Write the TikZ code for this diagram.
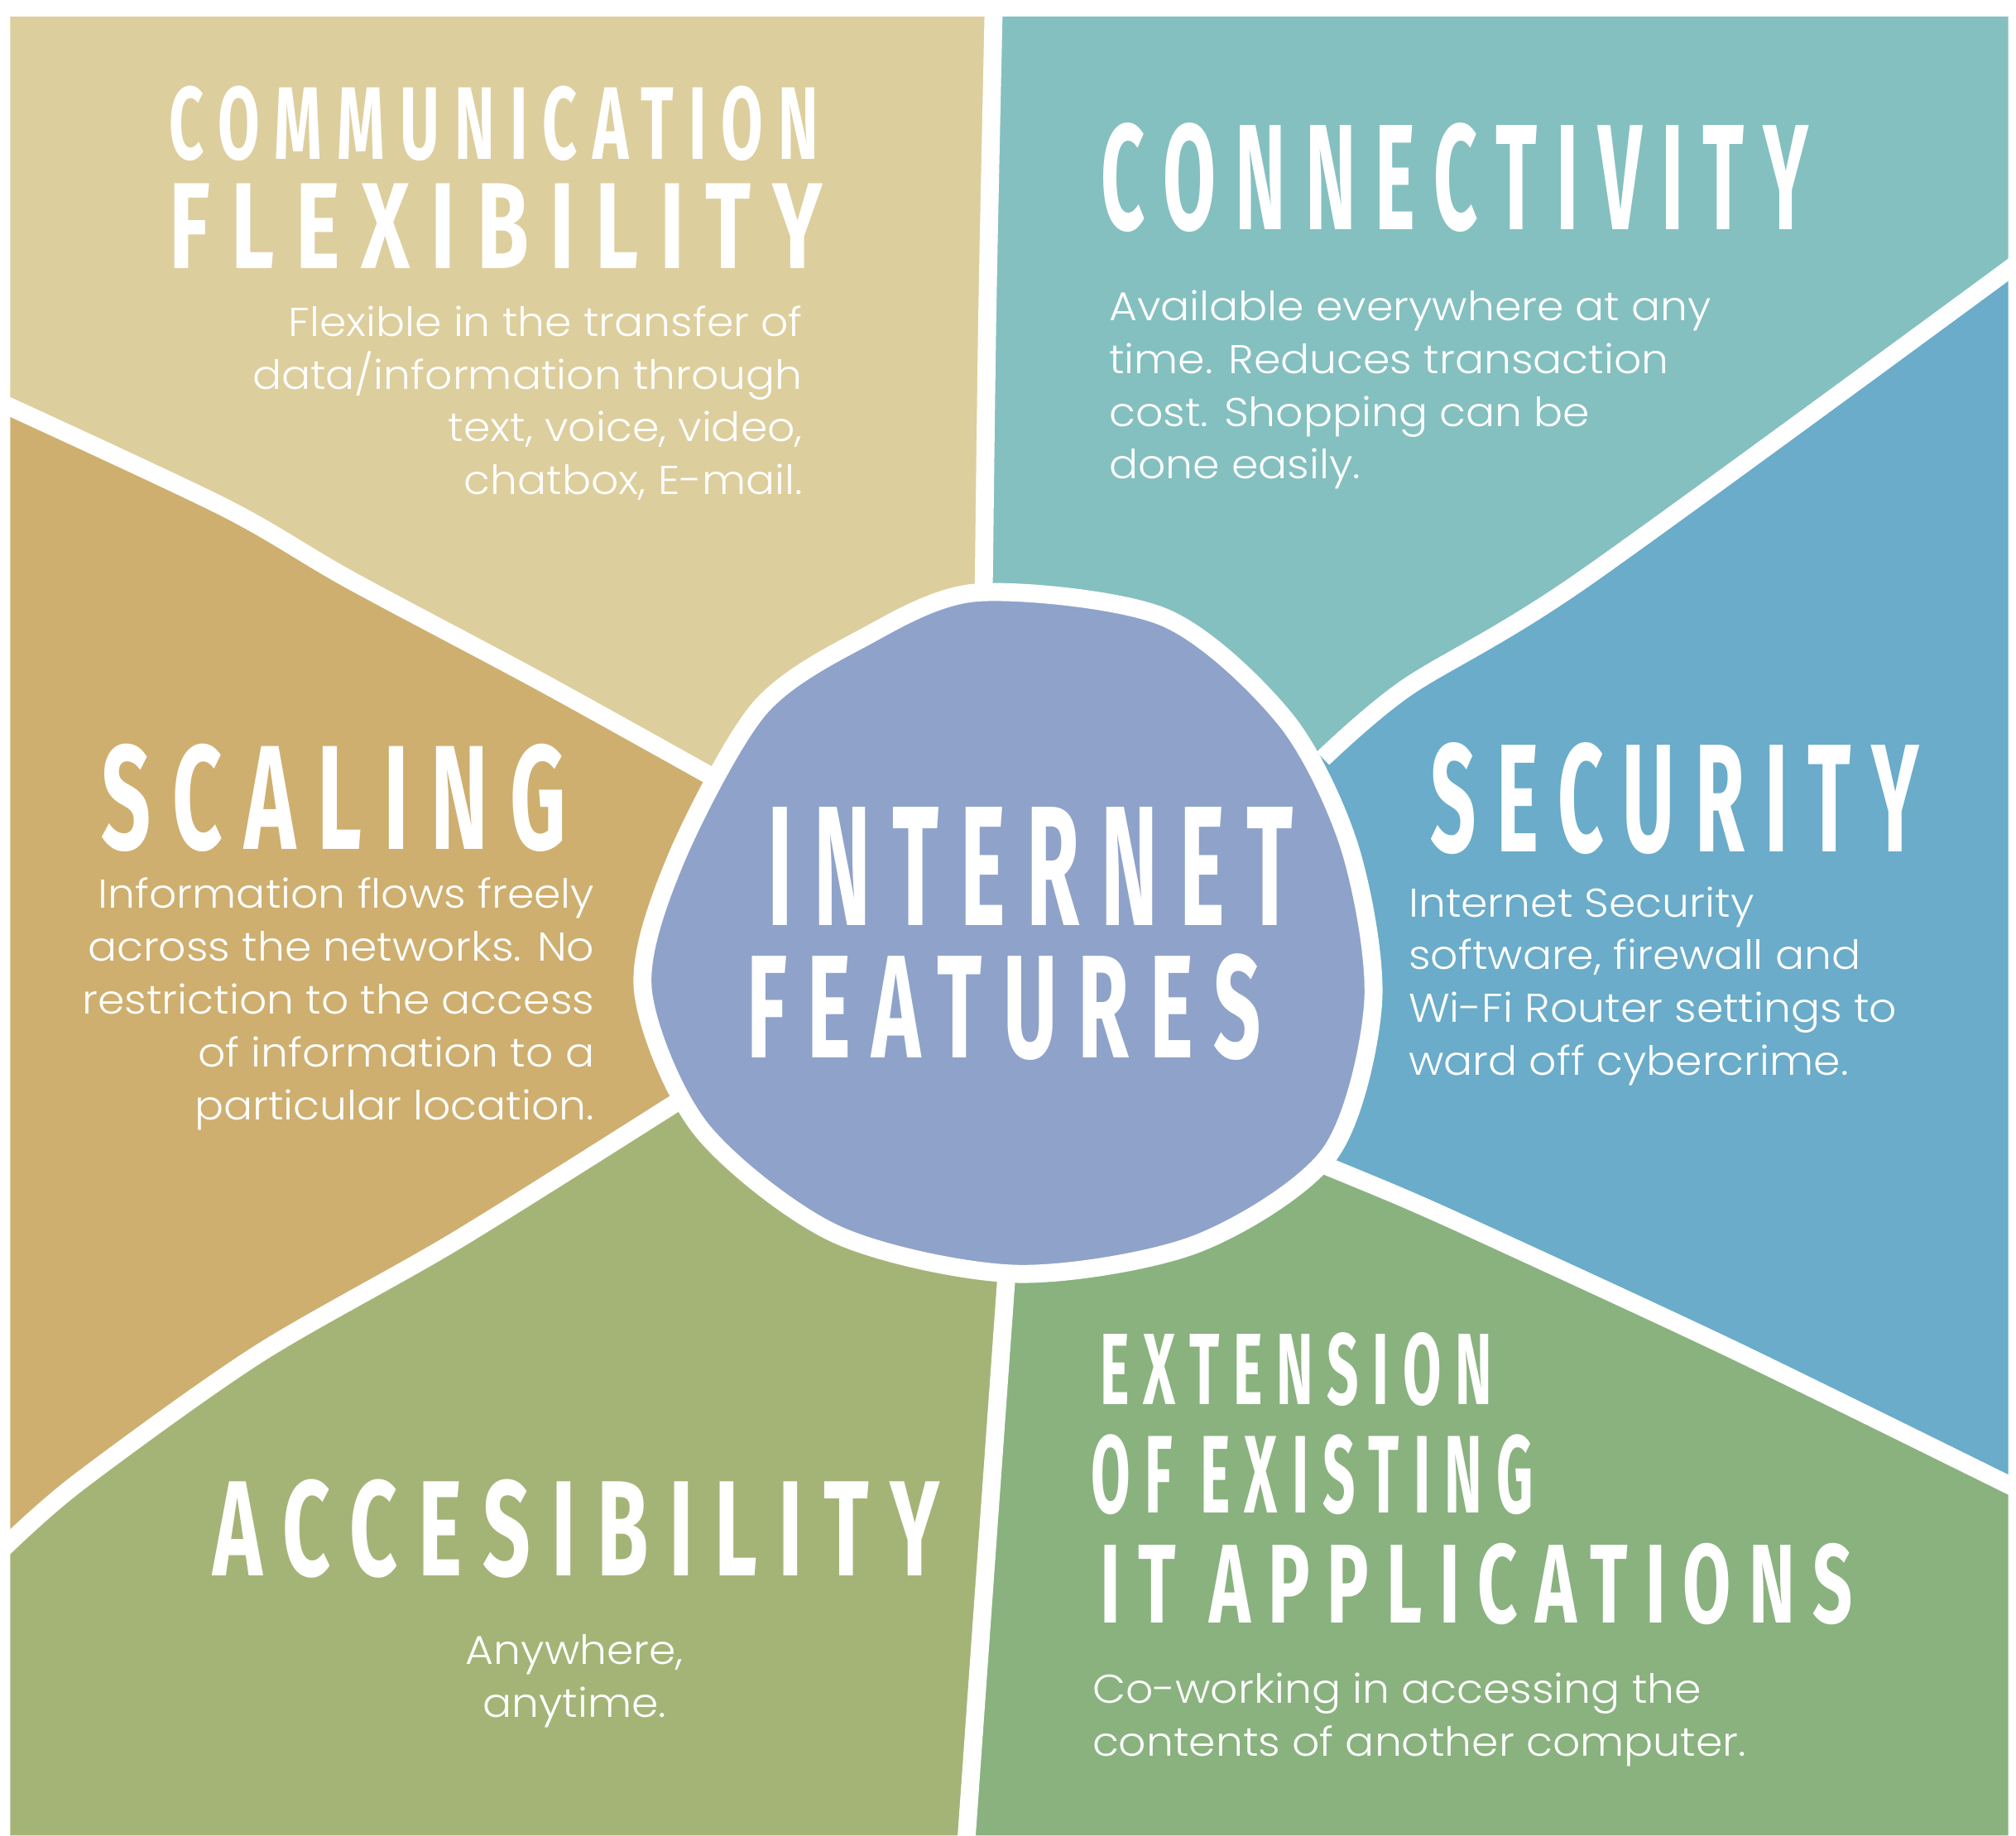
\documentclass[tikz,border=0pt]{standalone}
\usepackage{fontspec}
\setmainfont{Poppins}[UprightFont=* Light,FakeStretch=1.07]
\newfontfamily\handfont{Fira Sans}[FakeStretch=0.6,LetterSpace=15]
\definecolor{commtan}{HTML}{DDCE9D}
\definecolor{scaletan}{HTML}{CEAF6F}
\definecolor{connteal}{HTML}{84C0BF}
\definecolor{secublue}{HTML}{6AACC9}
\definecolor{extegreen}{HTML}{89B27E}
\definecolor{accegreen}{HTML}{A4B477}
\definecolor{hubblue}{HTML}{8FA2C9}
\newlength{\pxlen}\setlength{\pxlen}{0.01cm}
\newcommand{\brush}[3]{\resizebox{#1\pxlen}{#2\pxlen}{\handfont\bfseries #3}}

\begin{document}
\begin{tikzpicture}[x=0.01cm,y=-0.01cm,
    divider/.style={draw=white,line width=0.14cm},
    heading/.style={inner sep=0,text=white},
    blurb/.style={inner sep=0,text=white,font=\fontsize{8.9}{11.7}\selectfont}]
    \useasboundingbox (0,0) rectangle (1568,1428);
    % boundary points
    \coordinate (c) at (785,725);
    \coordinate (t1) at (773,13);   \coordinate (t2) at (768,240);  \coordinate (t3) at (765,470);
    \coordinate (l1) at (8,316);    \coordinate (l2) at (175,395);  \coordinate (l3) at (272,451);
    \coordinate (l4) at (420,530);  \coordinate (l5) at (555,605);
    \coordinate (m1) at (8,1200);   \coordinate (m2) at (60,1154);  \coordinate (m3) at (200,1054);
    \coordinate (m4) at (355,965);  \coordinate (m5) at (535,852);
    \coordinate (b1) at (752,1428); \coordinate (b2) at (768,1200); \coordinate (b3) at (783,990);
    \coordinate (n1) at (1562,1155);\coordinate (n2) at (1350,1051);\coordinate (n3) at (1165,965);
    \coordinate (n4) at (1094,933); \coordinate (n5) at (1029,906);
    \coordinate (r1) at (1562,210); \coordinate (r2) at (1231,451); \coordinate (r3) at (1094,535);
    \coordinate (r4) at (1029,590);

    % panels
    \fill[commtan] (8,13) -- (t1) -- (t2) -- (t3) -- (c) -- (l5) -- (l4) -- (l3) -- (l2) -- (l1) -- cycle;
    \fill[connteal] (t1) -- (1562,13) -- (r1) -- (r2) -- (r3) -- (r4) -- (c) -- (t3) -- (t2) -- cycle;
    \fill[secublue] (r1) -- (n1) -- (n2) -- (n3) -- (n4) -- (n5) -- (c) -- (r4) -- (r3) -- (r2) -- cycle;
    \fill[extegreen] (n1) -- (1562,1428) -- (b1) -- (b2) -- (b3) -- (c) -- (n5) -- (n4) -- (n3) -- (n2) -- cycle;
    \fill[accegreen] (b1) -- (8,1428) -- (m1) -- (m2) -- (m3) -- (m4) -- (m5) -- (c) -- (b3) -- (b2) -- cycle;
    \fill[scaletan] (m1) -- (l1) -- (l2) -- (l3) -- (l4) -- (l5) -- (c) -- (m5) -- (m4) -- (m3) -- (m2) -- cycle;

    % white dividers
    \draw[divider] plot[smooth] coordinates {(773,0) (t2) (t3)};
    \draw[divider] plot[smooth] coordinates {(0,313) (l2) (l3) (l4) (l5)};
    \draw[divider] plot[smooth] coordinates {(0,1207) (m2) (m3) (m4) (m5)};
    \draw[divider] plot[smooth] coordinates {(751,1440) (b2) (b3)};
    \draw[divider] plot[smooth] coordinates {(1570,1159) (n2) (n3) (n4) (n5)};
    \draw[divider] plot[smooth] coordinates {(1570,204) (r2) (r3) (r4)};

    % hub
    \filldraw[fill=hubblue,divider] plot[smooth cycle] coordinates {
        (760,461) (905,480) (1000,560) (1050,660) (1068,780) (1034,898) (930,968)
        (790,991) (650,960) (545,878) (500,770) (525,670) (590,552) (670,497)};
    \node[heading,anchor=north west] (hub1) at (596,627) {\brush{409}{92}{INTERNET}};
    \node[heading,anchor=north west] (hub2) at (580,741) {\brush{400}{81}{FEATURES}};

    % headings
    \node[heading,anchor=north west] (comm1) at (131,66) {\brush{505}{57}{COMMUNICATION}};
    \node[heading,anchor=north west] (comm2) at (131,142) {\brush{508}{66}{FLEXIBILITY}};
    \node[heading,anchor=north west] (conn) at (856,95) {\brush{550}{83}{CONNECTIVITY}};
    \node[heading,anchor=north west] (scal) at (78,578) {\brush{362}{82}{SCALING}};
    \node[heading,anchor=north west] (secu) at (1112,577) {\brush{380}{85}{SECURITY}};
    \node[heading,anchor=north west] (acce) at (165,1150) {\brush{565}{75}{ACCESIBILITY}};
    \node[heading,anchor=north west] (exte1) at (855,1036) {\brush{305}{56}{EXTENSION}};
    \node[heading,anchor=north west] (exte2) at (848,1115) {\brush{344}{61}{OF EXISTING}};
    \node[heading,anchor=north west] (exte3) at (855,1200) {\brush{585}{62}{IT APPLICATIONS}};

    % texts
    \node[blurb,align=right,anchor=north east] (commtxt) at (625,237)
        {Flexible in the transfer of\\data/information through\\text, voice, video,\\chatbox, E-mail.};
    \node[blurb,align=left,anchor=north west] (conntxt) at (862,225)
        {Available everywhere at any\\time. Reduces transaction\\cost. Shopping can be\\done easily.};
    \node[blurb,align=right,anchor=north east] (scaltxt) at (463,682)
        {Information flows freely\\across the networks. No\\restriction to the access\\of information to a\\particular location.};
    \node[blurb,align=left,anchor=north west] (secutxt) at (1095,689)
        {Internet Security\\software, firewall and\\Wi-Fi Router settings to\\ward off cybercrime.};
    \node[blurb,align=center,anchor=north] (accetxt) at (447,1271)
        {Anywhere,\\anytime.};
    \node[blurb,align=left,anchor=north west] (extetxt) at (849,1301)
        {Co-working in accessing the\\contents of another computer.};
\end{tikzpicture}
\end{document}
